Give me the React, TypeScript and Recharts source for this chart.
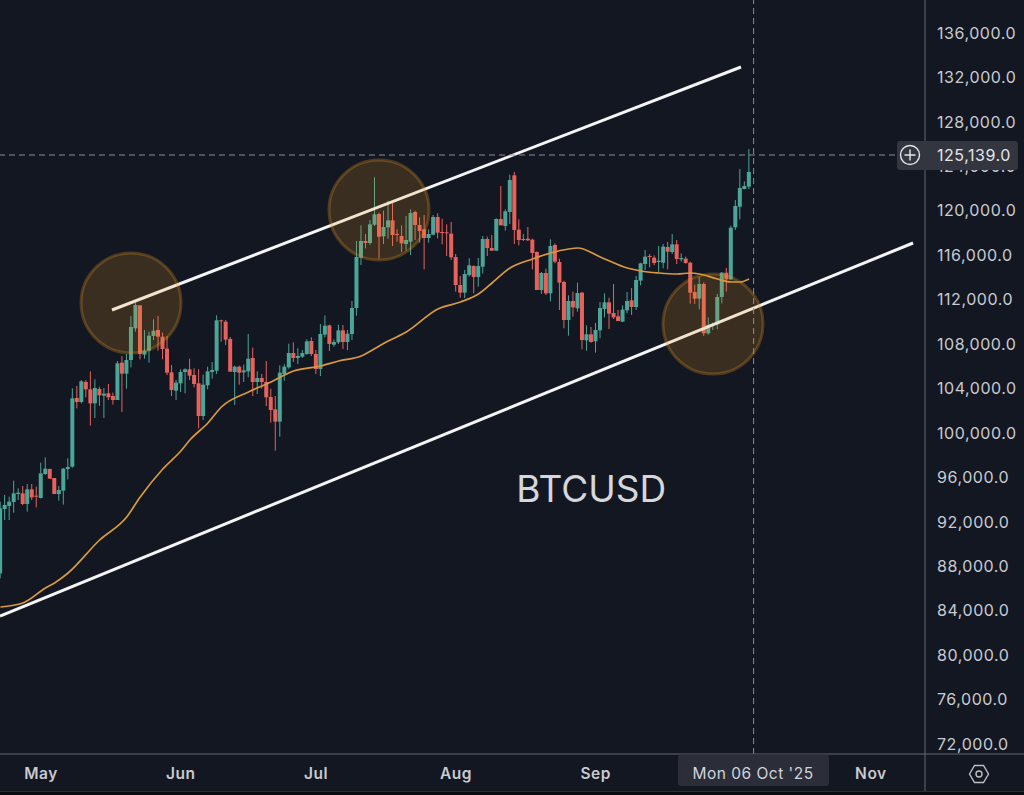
import { Bar, ComposedChart, Line, ReferenceDot, ReferenceLine, XAxis, YAxis } from 'recharts'

// days counted from 1 May 2025, first candle is 22 Apr
const firstDay = -9
const opens = [
  87370, 93160, 93430, 93790, 94510, 94570, 93610, 94930, 94360,
  94150, 96310, 96760, 95950, 94510, 94810, 96760, 96970, 103150, 102790,
  104590, 103930, 102670, 103960, 103360, 103570, 103330, 102970, 106330, 105340,
  106570, 109420, 111490, 107050, 107410, 108730, 109270, 108670, 107590, 105460,
  103810, 104470, 105490, 105730, 105220, 104470, 101530, 104290, 105490, 105610,
  110140, 110020, 108460, 105490, 105970, 105460, 105550, 106750, 104590, 104950,
  104590, 103240, 102130, 101020, 105310, 105910, 107200, 106750, 106870, 107110,
  108280, 107110, 105760, 108850, 109690, 107950, 108160, 109240, 108190, 108910,
  111250, 115780, 117280, 117100, 118750, 119710, 117700, 118510, 119140, 117910,
  117730, 117010, 117220, 119890, 118720, 118330, 117550, 117850, 119440, 118090,
  118060, 117940, 115840, 113320, 112630, 114220, 115030, 114040, 114970, 117460,
  116650, 116410, 119260, 118630, 119890, 123190, 118300, 117370, 117490, 117400,
  116290, 112870, 114400, 112570, 116920, 115390, 113590, 110170, 111880, 111220,
  112630, 108340, 108880, 108250, 109240, 111160, 111760, 110800, 110500, 110020,
  111040, 111940, 111340, 113710, 115210, 115930, 115780, 115390, 115330, 116740,
  116290, 116980, 115630, 115690, 115330, 112690, 112090, 113410, 108970, 109660,
  109780, 112240, 114430, 113830, 118510, 120370, 121960, 122170,
]
const highs = [
  93820, 94420, 94270, 95710, 95020, 95230, 95410, 95410, 95170,
  97330, 97810, 96790, 95950, 95230, 96850, 97720, 104020, 104230, 104770,
  104770, 105550, 104830, 104170, 104050, 104410, 103630, 106480, 106930, 107110,
  110530, 111730, 111490, 109270, 109120, 110230, 110530, 109030, 108730, 106120,
  104770, 105730, 105820, 106690, 105820, 105730, 105250, 105970, 106390, 110590,
  110200, 110170, 108640, 106060, 106060, 106150, 108910, 107680, 105550, 105310,
  106480, 103990, 103330, 106090, 106210, 108040, 108160, 107620, 107470, 108430,
  108610, 107470, 109810, 110590, 109750, 108430, 109750, 109720, 109270, 111880,
  117280, 118690, 117910, 119170, 123010, 119830, 120010, 120910, 120790, 118330,
  118690, 119530, 120130, 120010, 119410, 119620, 118330, 119620, 119770, 119290,
  118780, 118990, 116110, 114130, 114670, 115720, 115090, 115750, 117730, 117670,
  117820, 119320, 122230, 120130, 123250, 123490, 119230, 117910, 118540, 117490,
  116350, 114490, 114790, 117430, 117070, 115690, 113710, 112390, 112720, 113530,
  112690, 109690, 109540, 109900, 111790, 112570, 112180, 113410, 111070, 111490,
  112690, 113050, 114130, 115330, 116470, 116110, 115990, 116830, 117010, 117190,
  117910, 117370, 116170, 115870, 115420, 113350, 114070, 113560, 110410, 109930,
  112510, 114490, 114850, 118660, 120970, 123760, 122650, 125560,
]
const lows = [
  86920, 92170, 92170, 92830, 93970, 93520, 92920, 93970, 93310,
  94120, 96220, 95860, 94510, 93910, 93550, 95830, 96880, 102220, 102670,
  103210, 100660, 101350, 102430, 101350, 102970, 102550, 102970, 101890, 103990,
  105910, 109120, 106630, 106690, 106330, 108370, 107410, 106630, 105220, 103330,
  102970, 103690, 103570, 104770, 104110, 100420, 101170, 103930, 104890, 105310,
  108220, 107920, 105520, 102520, 104350, 104590, 105010, 103330, 103510, 103990,
  102430, 100930, 98410, 99670, 104710, 105790, 106390, 106210, 106750, 107050,
  106930, 105310, 105130, 108610, 107380, 107770, 108010, 107560, 107470, 108370,
  110560, 115120, 116620, 116950, 118630, 115690, 117010, 117490, 116830, 117220,
  116290, 116410, 116020, 117370, 117130, 114730, 117130, 117790, 117520, 116980,
  115930, 115570, 112720, 112180, 112150, 114070, 112570, 113170, 114370, 115930,
  116410, 116410, 118690, 118210, 118810, 117010, 116890, 117280, 117280, 114730,
  112870, 112510, 112420, 111850, 115270, 111070, 109420, 108760, 110470, 110920,
  107530, 107410, 108130, 107230, 108520, 110410, 109360, 110260, 110080, 109990,
  110770, 110620, 111070, 113290, 114670, 114910, 115120, 114490, 114820, 114730,
  116110, 115210, 115420, 115240, 111640, 111610, 111130, 108730, 108850, 109270,
  109330, 111670, 112720, 113770, 118270, 119230, 121930, 121960,
]
const closes = [
  93220, 93520, 93820, 94570, 94630, 93610, 94930, 94210, 94270,
  96370, 96790, 95890, 94510, 94870, 96790, 96940, 103120, 102790, 104650,
  103930, 102670, 104050, 103390, 103540, 103210, 102970, 106270, 105340, 106570,
  109540, 111520, 107110, 107410, 108760, 109210, 108670, 107560, 105430, 103870,
  104530, 105490, 105730, 105160, 104410, 101530, 104350, 105550, 105670, 110140,
  110080, 108400, 105520, 105970, 105430, 105640, 106690, 104590, 104950, 104590,
  103210, 102070, 101020, 105430, 105970, 107200, 106750, 106930, 107200, 108250,
  107110, 105760, 108910, 109660, 108010, 108190, 109240, 108190, 108940, 111250,
  115840, 117280, 117100, 118780, 119680, 117670, 118540, 119140, 117820, 117820,
  117070, 117370, 119800, 118720, 118180, 117550, 117910, 119440, 118030, 118000,
  117970, 115810, 113320, 112630, 114310, 115090, 114040, 115030, 117460, 116650,
  116410, 119260, 118690, 119950, 122770, 118270, 117370, 117460, 117340, 116200,
  112870, 114400, 112570, 116830, 115420, 113530, 110170, 111880, 111310, 112600,
  108370, 108880, 108190, 109270, 111250, 111760, 110740, 110410, 110080, 111100,
  111880, 111340, 113770, 115270, 115870, 115840, 115300, 115510, 116770, 116320,
  116980, 115660, 115750, 115300, 112630, 112090, 113410, 108970, 109720, 109810,
  112240, 114430, 113830, 118480, 120430, 122050, 122230, 123490,
]

const maDays = [-9, -4, 1, 3, 6, 13, 19, 22, 27, 31, 33, 37, 40, 46, 51, 56, 62, 66, 71, 75, 77, 81, 88, 93, 97, 100, 104, 109, 113, 117, 119, 124, 130, 133, 137, 141, 144, 146, 150, 153, 155, 157]
const maValues = [84340, 84700, 86050, 86500, 87400, 90370, 92440, 94240, 96760, 98380, 99370, 100900, 102340, 103690, 104590, 105580, 106030, 106480, 106930, 107830, 108280, 109090, 111160, 111790, 112510, 113500, 114850, 115660, 116200, 116560, 116650, 115840, 114850, 114580, 114400, 114310, 114400, 114310, 113860, 113590, 113590, 113860]

const priceTicks = [72000, 76000, 80000, 84000, 88000, 92000, 96000, 100000, 104000, 108000, 112000, 116000, 120000, 124000, 128000, 132000, 136000]
const monthTicks = [0, 31, 61, 92, 123, 184]
const monthNames: Record<number, string> = { 0: 'May', 31: 'Jun', 61: 'Jul', 92: 'Aug', 123: 'Sep', 184: 'Nov' }

const upperChannel = [{ x: 15.74, y: 111070 }, { x: 155.2, y: 132940 }]
const lowerChannel = [{ x: -9.09, y: 83530 }, { x: 193.35, y: 117100 }]
const circles = [
  { day: 19.96, price: 111700 },
  { day: 74.94, price: 120070 },
  { day: 149, price: 109810 },
]

const crossDay = 158
const crossPrice = 125020

const candles = opens.map((open, i) => ({
  day: firstDay + i,
  open,
  high: highs[i],
  low: lows[i],
  close: closes[i],
}))
const maLine = maDays.map((day, i) => ({ day, ma: maValues[i] }))

const BG = '#131722'
const UP = '#4ba598'
const DOWN = '#e8625c'
const AXIS = '#66686e'
const FONT = 'Inter, sans-serif'

function Candle(props: any) {
  const { x, y, width, height, payload } = props
  const { open, close, high, low } = payload
  const color = close >= open ? UP : DOWN
  const perUnit = height / (high - low)
  const top = y + (high - Math.max(open, close)) * perUnit
  const bodyH = Math.max(Math.abs(open - close) * perUnit, 1)
  return (
    <g>
      <rect x={x + width / 2 - 0.5} y={y} width={1} height={height} fill={color} />
      <rect x={x} y={top} width={width} height={bodyH} fill={color} />
    </g>
  )
}

export default function App() {
  return (
    <div style={{ position: 'absolute', left: 0, top: 0, width: 1024, height: 795, background: BG, overflow: 'hidden' }}>
      <ComposedChart width={1024} height={795} data={candles} margin={{ top: 0, right: 0, bottom: 0, left: 0 }}>
        <XAxis
          dataKey="day"
          type="number"
          domain={[-9.09, 196]}
          allowDataOverflow
          ticks={monthTicks}
          interval={0}
          tickFormatter={(v: number) => monthNames[v]}
          height={41}
          tickLine={false}
          tickSize={0}
          tickMargin={14}
          stroke={AXIS}
          tick={{ fill: '#c8cad0', fontSize: 15.5, fontWeight: 600, fontFamily: FONT, letterSpacing: 0.5 }}
        />
        <YAxis
          orientation="right"
          type="number"
          domain={[71110, 138970]}
          allowDataOverflow
          ticks={priceTicks}
          interval={0}
          tickFormatter={(v: number) => v.toLocaleString('en-US', { minimumFractionDigits: 1 })}
          width={99}
          tickLine={false}
          tickSize={0}
          tickMargin={12}
          stroke={AXIS}
          tick={{ fill: '#c9cbd1', fontSize: 16, fontFamily: FONT, letterSpacing: 0.55, textAnchor: 'start' }}
        />
        <Bar dataKey={(d: any) => [d.low, d.high]} barSize={4} shape={Candle} isAnimationActive={false} />
        <Line data={maLine} dataKey="ma" type="monotone" stroke="#d89a3e" strokeWidth={1.7} dot={false} activeDot={false} isAnimationActive={false} />
        <ReferenceLine segment={upperChannel} stroke="#f5f5f5" strokeWidth={3} ifOverflow="hidden" />
        <ReferenceLine segment={lowerChannel} stroke="#f5f5f5" strokeWidth={3} ifOverflow="hidden" />
        {circles.map((c) => (
          <ReferenceDot
            key={c.day}
            x={c.day}
            y={c.price}
            r={50}
            fill="rgba(230,150,30,0.19)"
            stroke="rgba(230,150,30,0.28)"
            strokeWidth={3}
          />
        ))}
        <ReferenceLine x={crossDay} stroke="#8a8d96" strokeDasharray="6 4" />
        <ReferenceLine y={crossPrice} stroke="#8a8d96" strokeDasharray="6 4" />
        <ReferenceDot
          x={122}
          y={95000}
          r={0}
          fill="none"
          stroke="none"
          label={{ value: 'BTCUSD', fill: '#d6d7da', fontSize: 37, fontFamily: FONT, position: 'center' }}
        />
      </ComposedChart>
      <svg width={1024} height={795} style={{ position: 'absolute', left: 0, top: 0, pointerEvents: 'none' }}>
        <path d="M925 754V791M925 754H1024" stroke={AXIS} fill="none" />
        <rect x={0} y={791} width={1024} height={1} fill="#2c2f38" />
        <rect x={0} y={792} width={1024} height={3} fill="#0b0c10" />
        <path d="M969.5 774l5-8.5h9l5 8.5l-5 8.5h-9z" fill="none" stroke="#bcbec3" strokeWidth={1.4} />
        <circle cx={979} cy={774} r={3} fill="none" stroke="#bcbec3" strokeWidth={1.4} />
        <rect x={678} y={754.5} width={151} height={31.5} rx={3} fill="#2b2e39" />
        <text x={753} y={778.5} textAnchor="middle" fill="#d1d4dc" fontFamily={FONT} fontSize={15.5} letterSpacing={0.5}>
          Mon 06 Oct '25
        </text>
        <rect x={897} y={141} width={121} height={29} rx={3} fill="#33363f" />
        <circle cx={910} cy={155} r={9.5} fill="none" stroke="#e4e5e8" strokeWidth={1.4} />
        <path d="M904.5 155h11M910 149.5v11" stroke="#e4e5e8" strokeWidth={1.4} />
        <text x={937} y={160.5} fill="#e4e5e8" fontFamily={FONT} fontSize={16} letterSpacing={0.55}>
          125,139.0
        </text>
      </svg>
    </div>
  )
}
